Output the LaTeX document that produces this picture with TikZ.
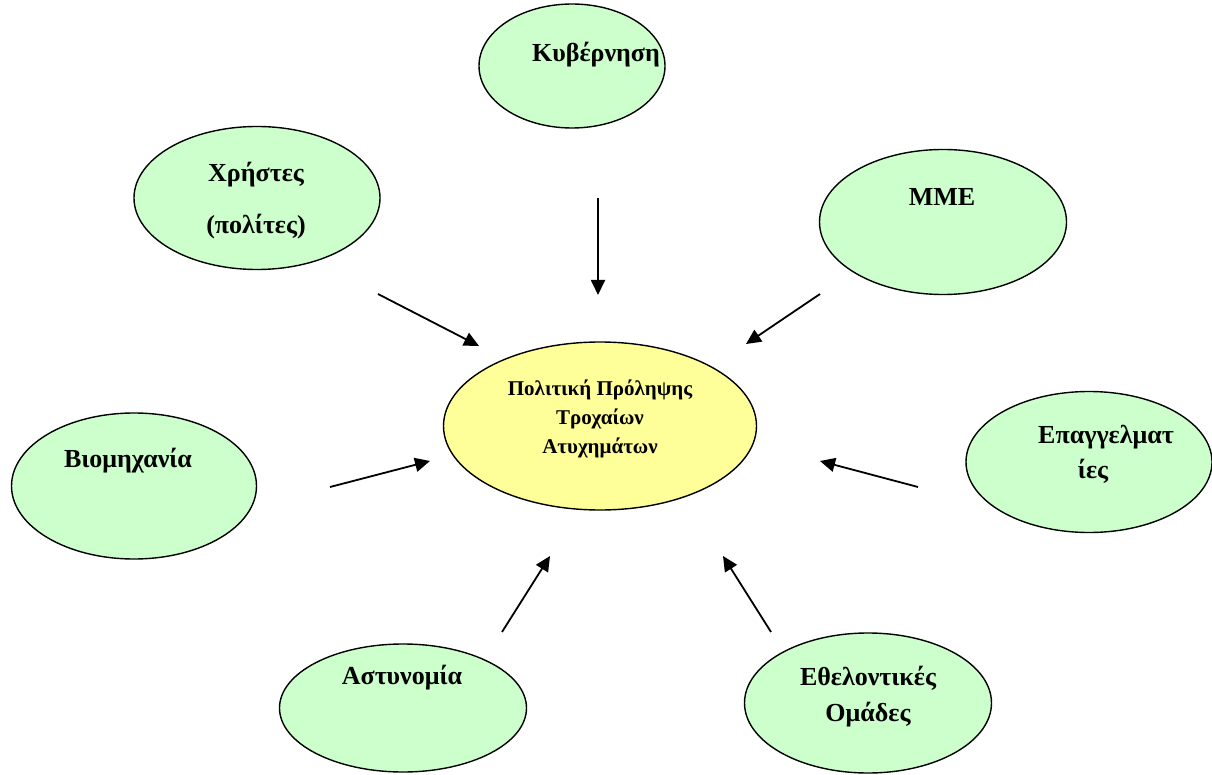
\documentclass[tikz,border=0pt]{standalone}
\usepackage{fontspec}
\setmainfont{Liberation Serif}
\usetikzlibrary{shapes.geometric,arrows.meta}
\definecolor{lgreen}{HTML}{CCFFCC}
\definecolor{lyellow}{HTML}{FFFF99}
\tikzset{
  actor/.style={ellipse,draw=black,line width=1.4pt,fill=lgreen,inner sep=0pt},
  core/.style={ellipse,draw=black,line width=1.4pt,fill=lyellow,inner sep=0pt},
  lbl/.style={font=\bfseries\fontsize{26}{30}\selectfont,align=center,inner sep=0pt},
  clbl/.style={font=\bfseries\fontsize{21}{29}\selectfont,align=center,inner sep=0pt},
  arr/.style={line width=1.8pt,-{Triangle[length=15pt,width=14pt]}}
}
\begin{document}
\begin{tikzpicture}[x=1pt,y=-1pt]
\useasboundingbox (0,0) rectangle (1212,775);
% ellipses
\node[actor,minimum width=186pt,minimum height=124pt] (kyv) at (572,66) {};
\node[actor,minimum width=246pt,minimum height=143pt] (xri) at (257,198) {};
\node[actor,minimum width=247pt,minimum height=145pt] (mme) at (943,222) {};
\node[core,minimum width=313pt,minimum height=168pt] (pol) at (600,426) {};
\node[actor,minimum width=245pt,minimum height=146pt] (viom) at (134,486) {};
\node[actor,minimum width=246pt,minimum height=141pt] (epag) at (1089,462) {};
\node[actor,minimum width=247pt,minimum height=128pt] (ast) at (403,708) {};
\node[actor,minimum width=247pt,minimum height=140pt] (ethe) at (868,703) {};
% labels
\node[lbl] (tkyv) at (596,55) {Κυβέρνηση};
\node[lbl] (txri1) at (256,175) {Χρήστες};
\node[lbl] (txri2) at (256,227) {(πολίτες)};
\node[lbl] (tmme) at (942,197) {ΜΜΕ};
\node[clbl] (tpol) at (600,419) {Πολιτική Πρόληψης\\Τροχαίων\\Ατυχημάτων};
\node[lbl] (tviom) at (128,461) {Βιομηχανία};
\node[lbl] (tepag1) at (1106,437) {Επαγγελματ};
\node[lbl] (tepag2) at (1093,471) {ίες};
\node[lbl] (tast) at (402,678) {Αστυνομία};
\node[lbl] (tethe1) at (868,678) {Εθελοντικές};
\node[lbl] (tethe2) at (868,715) {Ομάδες};
% arrow endpoints
\coordinate (a1s) at (598,198); \coordinate (a1e) at (598,295);
\coordinate (a2s) at (378,294); \coordinate (a2e) at (479,346);
\coordinate (a3s) at (820,294); \coordinate (a3e) at (746,344);
\coordinate (a4s) at (330,487); \coordinate (a4e) at (430,461);
\coordinate (a5s) at (918,487); \coordinate (a5e) at (820,461);
\coordinate (a6s) at (502,632); \coordinate (a6e) at (550,556);
\coordinate (a7s) at (771,632); \coordinate (a7e) at (723,556);
\draw[arr] (a1s) -- (a1e);
\draw[arr] (a2s) -- (a2e);
\draw[arr] (a3s) -- (a3e);
\draw[arr] (a4s) -- (a4e);
\draw[arr] (a5s) -- (a5e);
\draw[arr] (a6s) -- (a6e);
\draw[arr] (a7s) -- (a7e);
\end{tikzpicture}
\end{document}
